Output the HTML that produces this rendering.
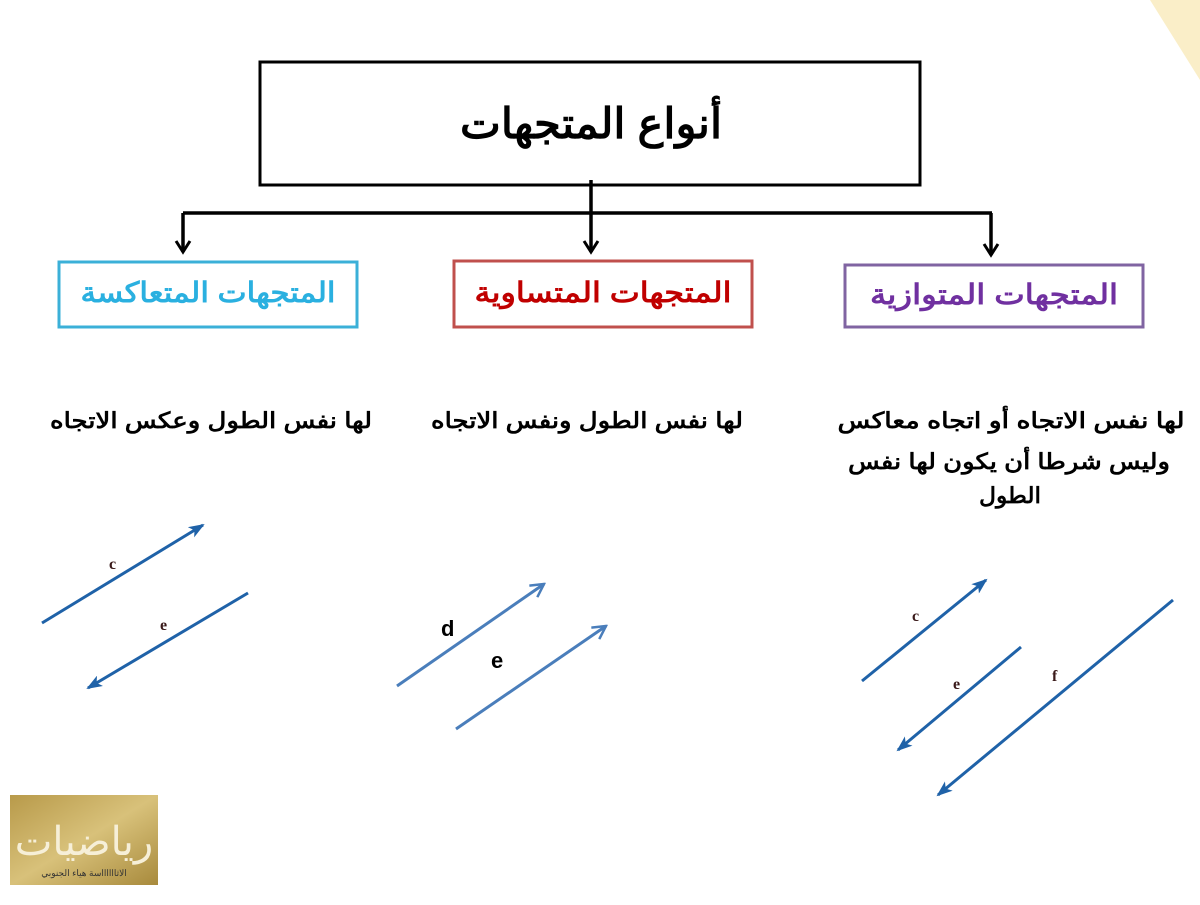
<!DOCTYPE html>
<html><head><meta charset="utf-8"><style>
body{margin:0;width:1200px;height:900px;background:#fff;overflow:hidden;font-family:"Liberation Sans","Noto Sans CJK SC",sans-serif}
</style></head><body>
<svg width="1200" height="900" xmlns="http://www.w3.org/2000/svg">
<defs>
<marker id="ab" markerWidth="16" markerHeight="12" refX="14" refY="6" orient="auto" markerUnits="userSpaceOnUse"><path d="M0,0 L16,6 L0,12 L4,6 Z" fill="#1f62a8"/></marker>
<marker id="al" markerWidth="16" markerHeight="16" refX="14" refY="8" orient="auto" markerUnits="userSpaceOnUse"><path d="M1,1 L14,8 L1,15" fill="none" stroke="#4a7ebb" stroke-width="2.5"/></marker>
<marker id="ak" markerWidth="16" markerHeight="18" refX="13" refY="9" orient="auto" markerUnits="userSpaceOnUse"><path d="M2,2 L13,9 L2,16" fill="none" stroke="#000" stroke-width="3"/></marker>
<linearGradient id="gold" x1="0" y1="0" x2="1" y2="1"><stop offset="0" stop-color="#b89a4a"/><stop offset="0.5" stop-color="#d8c17a"/><stop offset="1" stop-color="#a88a3c"/></linearGradient>
</defs>
<polygon points="1150,0 1200,0 1200,80" fill="#f8e7b0" opacity="0.7"/>
<rect x="260" y="62" width="660" height="123" fill="#fff" stroke="#000" stroke-width="3"/>
<text x="591" y="138" font-size="42" font-weight="bold" text-anchor="middle" direction="rtl" textLength="262" lengthAdjust="spacingAndGlyphs">أنواع المتجهات</text>
<g stroke="#000" stroke-width="3.5" fill="none">
<line x1="591" y1="180" x2="591" y2="213"/>
<line x1="183" y1="213" x2="992" y2="213"/>
<line x1="183" y1="213" x2="183" y2="252" marker-end="url(#ak)"/>
<line x1="591" y1="213" x2="591" y2="252" marker-end="url(#ak)"/>
<line x1="991" y1="213" x2="991" y2="255" marker-end="url(#ak)"/>
</g>
<rect x="59" y="262" width="298" height="65" fill="#fff" stroke="#3bb0d8" stroke-width="3"/>
<text x="208" y="302" font-size="28" font-weight="bold" fill="#2ab0e0" text-anchor="middle" direction="rtl" textLength="255" lengthAdjust="spacingAndGlyphs">المتجهات المتعاكسة</text>
<rect x="454" y="261" width="298" height="66" fill="#fff" stroke="#c0504d" stroke-width="3"/>
<text x="603" y="302" font-size="28" font-weight="bold" fill="#c00000" text-anchor="middle" direction="rtl" textLength="257" lengthAdjust="spacingAndGlyphs">المتجهات المتساوية</text>
<rect x="845" y="265" width="298" height="62" fill="#fff" stroke="#8064a2" stroke-width="3"/>
<text x="994" y="304" font-size="28" font-weight="bold" fill="#7030a0" text-anchor="middle" direction="rtl" textLength="248" lengthAdjust="spacingAndGlyphs">المتجهات المتوازية</text>
<g font-size="22" font-weight="bold" text-anchor="middle" direction="rtl" lengthAdjust="spacingAndGlyphs">
<text x="211" y="428" textLength="322" lengthAdjust="spacingAndGlyphs">لها نفس الطول وعكس الاتجاه</text>
<text x="587" y="428" textLength="312" lengthAdjust="spacingAndGlyphs">لها نفس الطول ونفس الاتجاه</text>
<text x="1011" y="428" textLength="347" lengthAdjust="spacingAndGlyphs">لها نفس الاتجاه أو اتجاه معاكس</text>
<text x="1009" y="469" textLength="322" lengthAdjust="spacingAndGlyphs">وليس شرطا أن يكون لها نفس</text>
<text x="1010" y="503" textLength="62" lengthAdjust="spacingAndGlyphs">الطول</text>
</g>
<g stroke="#1f62a8" stroke-width="3" fill="none">
<line x1="42" y1="623" x2="203" y2="525" marker-end="url(#ab)"/>
<line x1="248" y1="593" x2="88" y2="688" marker-end="url(#ab)"/>
<line x1="862" y1="681" x2="986" y2="580" marker-end="url(#ab)"/>
<line x1="1021" y1="647" x2="898" y2="750" marker-end="url(#ab)"/>
<line x1="1173" y1="600" x2="938" y2="795" marker-end="url(#ab)"/>
</g>
<g stroke="#4a7ebb" stroke-width="3" fill="none">
<line x1="397" y1="686" x2="544" y2="584" marker-end="url(#al)"/>
<line x1="456" y1="729" x2="606" y2="626" marker-end="url(#al)"/>
</g>
<g font-family="Liberation Serif,serif" font-weight="bold" font-size="16" fill="#3a1a1a">
<text x="109" y="569">c</text><text x="160" y="630">e</text>
<text x="912" y="621">c</text><text x="953" y="689">e</text><text x="1052" y="681">f</text>
</g>
<g font-weight="bold" font-size="22" fill="#000">
<text x="441" y="636">d</text><text x="491" y="668">e</text>
</g>
<rect x="10" y="795" width="148" height="90" fill="url(#gold)"/>
<text x="84" y="855" font-size="40" fill="#f6efd8" text-anchor="middle" font-family="Liberation Serif,serif" direction="rtl">رياضيات</text>
<text x="84" y="876" font-size="9" fill="#333" text-anchor="middle" direction="rtl">الاثااااااسة هياء الجنوبي</text>
</svg>
</body></html>
